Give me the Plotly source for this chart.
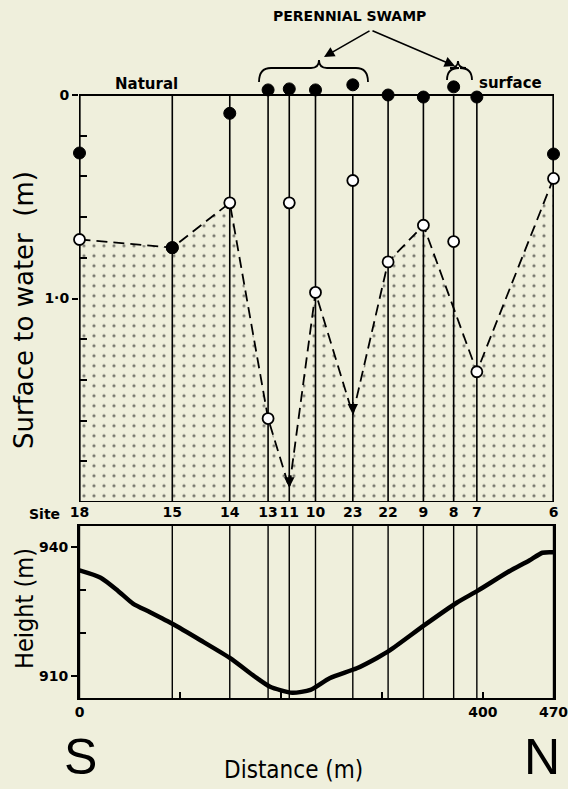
import plotly.graph_objects as go

# ---------------- data ----------------
sites = ['18', '15', '14', '13', '11', '10', '23', '22', '9', '8', '7', '6']
dist = [0, 92, 149, 187, 208, 234, 271, 306, 341, 371, 394, 470]          # m along transect
filled_depth = [0.285, 0.75, 0.09, -0.025, -0.03, -0.025, -0.05, 0.0, 0.01, -0.04, 0.01, 0.29]
open_depth = [0.71, 0.75, 0.53, 1.59, 0.53, 0.97, 0.42, 0.82, 0.64, 0.72, 1.36, 0.41]

wt_sites = ['18', '15', '14', '13', '11', '10', '23', '22', '9', '7', '6']
wt_depth = [0.71, 0.75, 0.53, 1.59, 1.93, 0.97, 1.57, 0.82, 0.64, 1.36, 0.41]
arrow_sites = ['11', '23']

prof_dist = [0, 21, 38, 53, 70, 93, 120, 149, 176, 189, 211, 229, 248, 275, 295,
             308, 342, 374, 395, 424, 446, 459, 470]
prof_height = [934.5, 932.8, 929.8, 926.8, 924.8, 922.0, 918.3, 914.2, 909.5, 907.5,
               906.1, 906.8, 909.5, 911.8, 914.2, 916.0, 921.8, 927.0, 929.8, 934.0,
               936.8, 938.6, 938.7]

depth_bottom = 2.0
depth_view_top = -0.07
height_range = [904.9, 944.8]
dist_range = [-0.5, 470.5]
dist_ticks = [0, 400, 470]
height_ticks = [910, 940]
depth_ticks = [0, 1.0]
depth_ticktext = ['0', '1·0']

# ---------------- layout helpers ----------------
W, H = 568, 789
L, R = 79, 14
BG = '#efefdc'
FONT = 'DejaVu Sans'
FONTC = 'DejaVu Sans Condensed'


def px(x):
    return (x - L) / (W - L - R)


def py(y):
    return 1 - y / H


d_of = dict(zip(sites, dist))
wt_x = [d_of[s] for s in wt_sites]

fig = go.Figure()

# vertical well lines, top panel
vx, vy = [], []
for d in dist:
    vx += [d, d, None]
    vy += [0, depth_bottom, None]
fig.add_trace(go.Scatter(x=vx, y=vy, mode='lines', line=dict(color='black', width=1.6),
                         xaxis='x', yaxis='y', hoverinfo='skip', showlegend=False))

# stippled area below water table
fig.add_trace(go.Scatter(x=wt_x, y=[depth_bottom] * len(wt_x), mode='lines',
                         line=dict(width=0, color='rgba(0,0,0,0)'),
                         xaxis='x', yaxis='y', hoverinfo='skip', showlegend=False))
fig.add_trace(go.Scatter(x=wt_x, y=wt_depth, mode='lines', fill='tonexty',
                         fillcolor='rgba(0,0,0,0)',
                         fillpattern=dict(shape='.', fgcolor='black', bgcolor='rgba(0,0,0,0)',
                                          size=10, solidity=0.08, fillmode='overlay'),
                         line=dict(color='black', width=1.8, dash='11px,6px'),
                         xaxis='x', yaxis='y', hoverinfo='skip', showlegend=False))

# open circles
fig.add_trace(go.Scatter(x=dist, y=open_depth, mode='markers',
                         marker=dict(symbol='circle', size=11, color='white',
                                     line=dict(color='black', width=1.8)),
                         cliponaxis=False, xaxis='x', yaxis='y', showlegend=False))
# filled circles
fig.add_trace(go.Scatter(x=dist, y=filled_depth, mode='markers',
                         marker=dict(symbol='circle', size=12, color='black',
                                     line=dict(color='black', width=1)),
                         cliponaxis=False, xaxis='x', yaxis='y', showlegend=False))

# bottom panel: well lines and profile
bx, by = [], []
for d in dist:
    bx += [d, d, None]
    by += [height_range[0], height_range[1], None]
fig.add_trace(go.Scatter(x=bx, y=by, mode='lines', line=dict(color='black', width=1.4),
                         xaxis='x2', yaxis='y2', hoverinfo='skip', showlegend=False))
fig.add_trace(go.Scatter(x=prof_dist, y=prof_height, mode='lines',
                         line=dict(color='black', width=4.5, shape='spline', smoothing=0.6),
                         xaxis='x2', yaxis='y2', showlegend=False))

annotations = []
# arrowheads on the water-table line where wells were dry
for s in arrow_sites:
    i = wt_sites.index(s)
    annotations.append(dict(x=wt_x[i], y=wt_depth[i], xref='x', yref='y', text='',
                            showarrow=True, arrowhead=2, arrowsize=1.3, arrowwidth=1.6,
                            arrowcolor='black', ax=0, ay=-14))


def txt(x, y, s, size, family=FONT, bold=False, angle=0, xanchor='center'):
    f = dict(family=family, size=size, color='black')
    if bold:
        f['weight'] = 'bold'
    return dict(x=px(x), y=py(y), xref='paper', yref='paper', text=s, showarrow=False,
                xanchor=xanchor, yanchor='middle', textangle=angle, font=f)


annotations += [
    txt(349, 16, 'PERENNIAL SWAMP', 14, bold=True),
    txt(146, 84, 'Natural', 15, bold=True),
    txt(510, 83, 'surface', 15, bold=True),
    txt(62, 514, 'Site', 14, bold=True, xanchor='right'),
    txt(80, 757, 'S', 50, family='Liberation Sans'),
    txt(542, 757, 'N', 50, family='Liberation Sans'),
    txt(293, 770, 'Distance (m)', 24, family=FONTC),
    txt(24, 310, 'Surface to water  (m)', 26, family=FONT, angle=-90),
    txt(24, 609, 'Height (m)', 25, family=FONTC, angle=-90),
    # arrows from the swamp label
    dict(x=px(324), y=py(57), xref='paper', yref='paper', text='', showarrow=True,
         arrowhead=2, arrowsize=1.3, arrowwidth=1.6, arrowcolor='black', ax=47, ay=-27),
    dict(x=px(455), y=py(66), xref='paper', yref='paper', text='', showarrow=True,
         arrowhead=2, arrowsize=1.3, arrowwidth=1.6, arrowcolor='black', ax=-84, ay=-36),
]


def brace(x0, x1, xt, ytip, ymid, yend):
    p = (f"M {px(x0)},{py(yend)} Q {px(x0)},{py(ymid)} {px(x0 + 12)},{py(ymid)} "
         f"L {px(xt - 8)},{py(ymid)} Q {px(xt)},{py(ymid)} {px(xt)},{py(ytip)} "
         f"Q {px(xt)},{py(ymid)} {px(xt + 8)},{py(ymid)} "
         f"L {px(x1 - 12)},{py(ymid)} Q {px(x1)},{py(ymid)} {px(x1)},{py(yend)}")
    return dict(type='path', path=p, xref='paper', yref='paper',
                line=dict(color='black', width=1.8))


shapes = [
    brace(259, 368, 319, 60, 68, 82),
    brace(447, 472, 458, 61, 68, 80),
    # frame of the upper panel (depth 0 .. bottom)
    dict(type='rect', xref='x', yref='y', x0=dist[0], x1=dist[-1], y0=0, y1=depth_bottom,
         line=dict(color='black', width=2), layer='below'),
]

# top panel pixel extent: depth 0 at y=95, bottom at y=502
top_px0, top_px1 = 95, 502
scale = (top_px1 - top_px0) / depth_bottom
dom_top_px = top_px0 + depth_view_top * scale

fig.update_layout(
    width=W, height=H,
    margin=dict(l=L, r=R, t=0, b=0),
    paper_bgcolor=BG, plot_bgcolor=BG,
    showlegend=False,
    annotations=annotations,
    shapes=shapes,
    xaxis=dict(domain=[0, 1], range=dist_range, anchor='y', tickmode='array',
               tickvals=dist, ticktext=sites, ticks='', tickangle=0,
               showline=False, showgrid=False, zeroline=False,
               tickfont=dict(family=FONT, size=14, color='black', weight='bold')),
    yaxis=dict(domain=[py(top_px1), py(dom_top_px)], range=[depth_bottom, depth_view_top],
               anchor='x', tickmode='array',
               tickvals=depth_ticks, ticktext=depth_ticktext, ticks='outside', ticklen=6,
               tickwidth=2, tickcolor='black',
               minor=dict(tickvals=[0.2, 0.4, 0.6, 0.8, 1.2, 1.4, 1.6, 1.8], ticks='inside',
                          ticklen=8, tickwidth=1.5, tickcolor='black', showgrid=False),
               showline=False, showgrid=False, zeroline=False,
               tickfont=dict(family=FONT, size=14, color='black', weight='bold')),
    xaxis2=dict(domain=[0, 1], range=dist_range, anchor='y2', tickmode='array',
                tickvals=dist_ticks, ticks='inside', ticklen=6, tickwidth=1.5, tickcolor='black',
                ticklabeloverflow='allow',
                minor=dict(tickvals=[100, 200, 300], ticks='inside', ticklen=6, tickwidth=1.5,
                           tickcolor='black', showgrid=False),
                showline=True, linecolor='black', linewidth=2, mirror=True,
                showgrid=False, zeroline=False,
                tickfont=dict(family=FONT, size=14, color='black', weight='bold')),
    yaxis2=dict(domain=[py(698), py(526)], range=height_range, anchor='x2', tickmode='array',
                tickvals=height_ticks, ticks='outside', ticklen=6, tickwidth=2, tickcolor='black',
                minor=dict(tickvals=[920, 930], ticks='inside', ticklen=7, tickwidth=1.5,
                           tickcolor='black', showgrid=False),
                showline=True, linecolor='black', linewidth=2, mirror=True,
                showgrid=False, zeroline=False,
                tickfont=dict(family=FONT, size=14, color='black', weight='bold')),
)

fig.write_html('out.html')
